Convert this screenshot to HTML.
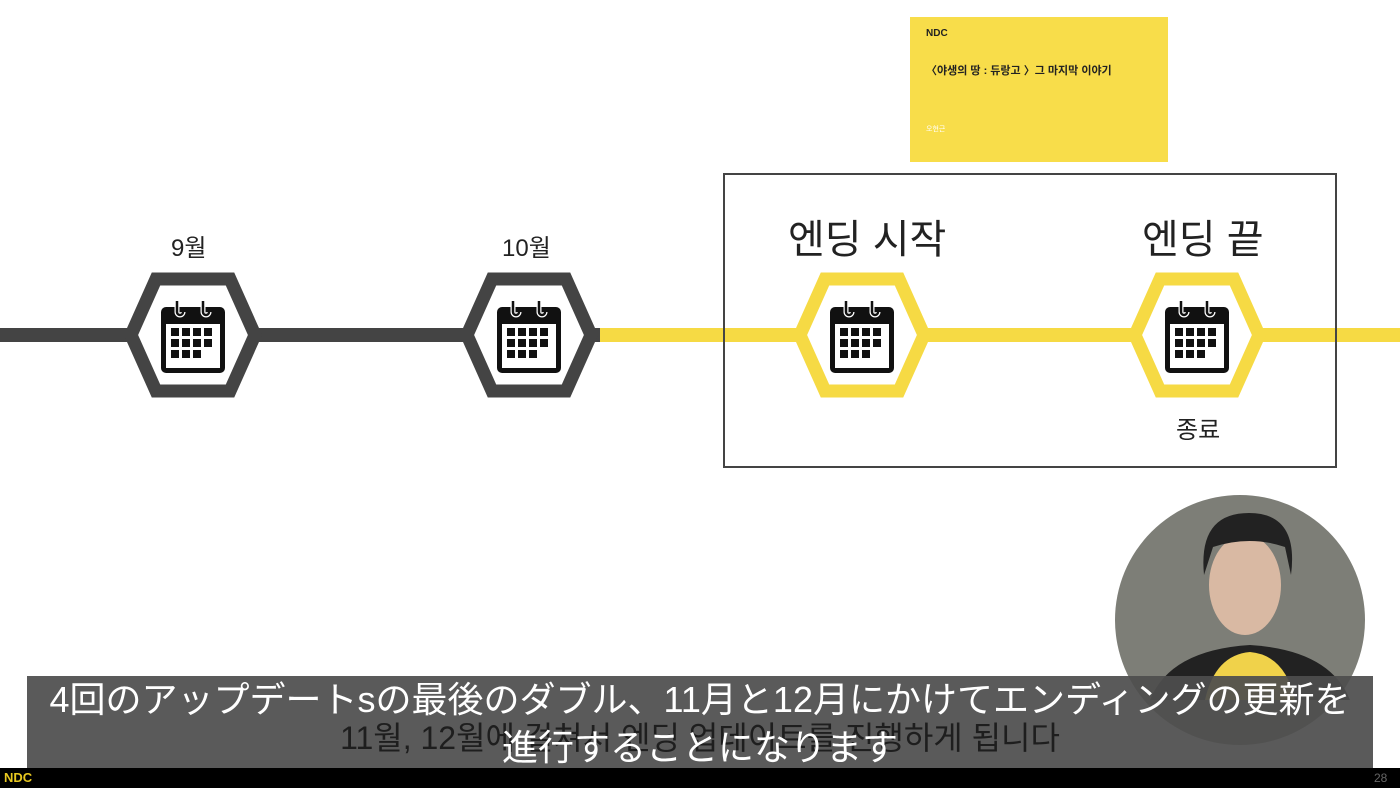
<!DOCTYPE html>
<html><head><meta charset="utf-8"><style>
html,body{margin:0;padding:0;background:#fff;}
body{width:1400px;height:788px;overflow:hidden;position:relative;font-family:"Liberation Sans","Noto Sans CJK KR",sans-serif;}
.t{position:absolute;color:#222;white-space:nowrap;}
</style></head><body>
<svg width="1400" height="788" style="position:absolute;left:0;top:0" xmlns="http://www.w3.org/2000/svg">
<defs>
<g id="cal">
<rect x="-32" y="-30" width="64" height="66" rx="5" fill="#111"/>
<rect x="-27" y="-13" width="54" height="44" fill="#fff"/>
<rect x="-22" y="-9" width="8" height="8" fill="#111"/><rect x="-11" y="-9" width="8" height="8" fill="#111"/><rect x="0" y="-9" width="8" height="8" fill="#111"/><rect x="11" y="-9" width="8" height="8" fill="#111"/>
<rect x="-22" y="2" width="8" height="8" fill="#111"/><rect x="-11" y="2" width="8" height="8" fill="#111"/><rect x="0" y="2" width="8" height="8" fill="#111"/><rect x="11" y="2" width="8" height="8" fill="#111"/>
<rect x="-22" y="13" width="8" height="8" fill="#111"/><rect x="-11" y="13" width="8" height="8" fill="#111"/><rect x="0" y="13" width="8" height="8" fill="#111"/>
<path d="M-16,-36 v11 a3,3 0 0 0 6,0" stroke="#fff" stroke-width="5" fill="none"/>
<path d="M-16,-36 v11 a3,3 0 0 0 6,0" stroke="#111" stroke-width="2.5" fill="none"/>
<path d="M10,-36 v11 a3,3 0 0 0 6,0" stroke="#fff" stroke-width="5" fill="none"/>
<path d="M10,-36 v11 a3,3 0 0 0 6,0" stroke="#111" stroke-width="2.5" fill="none"/>
</g>
<polygon id="hex" points="-62,0 -37,-56 37,-56 62,0 37,56 -37,56"/>
</defs>
<rect x="0" y="328" width="600" height="14" fill="#444"/>
<rect x="600" y="328" width="800" height="14" fill="#f6da44"/>
<rect x="724" y="174" width="612" height="293" fill="none" stroke="#444" stroke-width="2"/>
<g transform="translate(193,335)"><use href="#hex" fill="#fff" stroke="#444" stroke-width="13"/><use href="#cal" transform="translate(0,2)"/></g>
<g transform="translate(529,335)"><use href="#hex" fill="#fff" stroke="#444" stroke-width="13"/><use href="#cal" transform="translate(0,2)"/></g>
<g transform="translate(862,335)"><use href="#hex" fill="#fff" stroke="#f6da44" stroke-width="13"/><use href="#cal" transform="translate(0,2)"/></g>
<g transform="translate(1197,335)"><use href="#hex" fill="#fff" stroke="#f6da44" stroke-width="13"/><use href="#cal" transform="translate(0,2)"/></g>
<rect x="910" y="17" width="258" height="145" fill="#f8dd4a"/>
<circle cx="1240" cy="620" r="125" fill="#7d7e77"/>
<ellipse cx="1245" cy="585" rx="36" ry="50" fill="#d9b9a3"/>
<path d="M1204,575 q-6,-62 45,-62 q50,0 42,62 l-6,-28 q-35,-12 -72,0 z" fill="#222"/>
<path d="M1150,700 q20,-50 100,-55 q80,5 100,55 z" fill="#222"/>
<path d="M1205,700 q10,-45 45,-48 q35,3 45,48 z" fill="#f0d24a"/>
<rect x="27" y="676" width="1346" height="92" fill="#4d4d4d" fill-opacity="0.93"/>
<rect x="0" y="768" width="1400" height="20" fill="#000"/>
</svg>
<div class="t" style="left:171px;top:228px;font-size:24px;">9월</div>
<div class="t" style="left:502px;top:228px;font-size:24px;">10월</div>
<div class="t" style="left:788px;top:207px;font-size:40px;">엔딩 시작</div>
<div class="t" style="left:1142px;top:207px;font-size:40px;">엔딩 끝</div>
<div class="t" style="left:1176px;top:410px;font-size:24px;">종료</div>
<div class="t" style="left:926px;top:28px;font-size:10px;font-weight:bold;">NDC</div>
<div class="t" style="left:926px;top:62px;font-size:11px;font-weight:bold;">〈야생의 땅 : 듀랑고 〉그 마지막 이야기</div>
<div class="t" style="left:926px;top:124px;font-size:7px;color:#fff;">오현근</div>
<div class="t" style="left:0;width:1400px;text-align:center;top:713px;font-size:32px;color:#1e1e1e;">11월, 12월에 걸쳐서 엔딩 업데이트를 진행하게 됩니다</div>
<div class="t" style="left:0;width:1400px;text-align:center;top:676px;font-size:36px;color:#fff;font-family:'Liberation Sans','Noto Sans CJK JP',sans-serif;line-height:48px;">4回のアップデートsの最後のダブル、11月と12月にかけてエンディングの更新を<br>進行することになります</div>
<div class="t" style="left:4px;top:770px;font-size:13px;color:#e8c820;font-weight:bold;">NDC</div>
<div class="t" style="left:1374px;top:771px;font-size:12px;color:#666;">28</div>
</body></html>
